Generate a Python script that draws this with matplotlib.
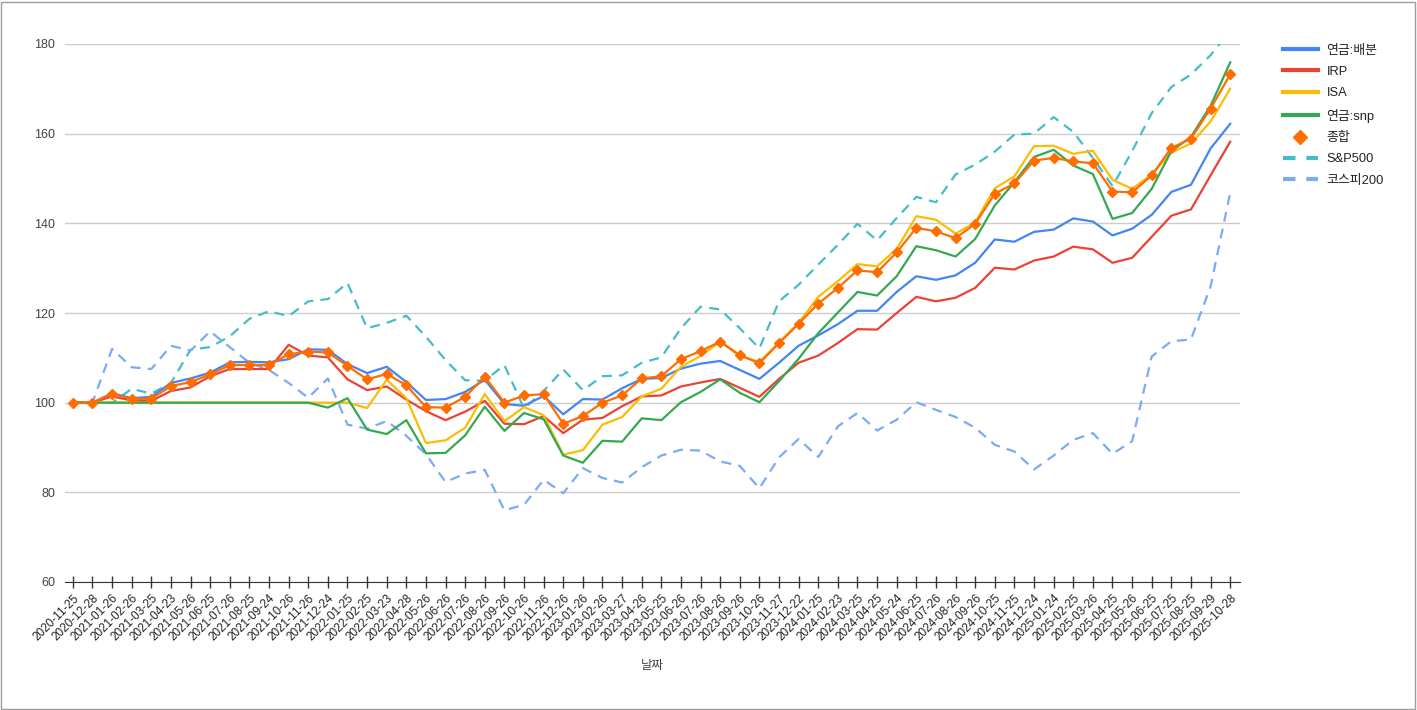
import matplotlib
matplotlib.use("Agg")
import matplotlib.pyplot as plt
from matplotlib.lines import Line2D
from matplotlib.patches import Rectangle

plt.rcParams['font.family'] = ['Liberation Sans', 'Noto Sans CJK KR', 'DejaVu Sans']

dates = ["2020-11-25", "2020-12-28", "2021-01-26", "2021-02-26", "2021-03-25", "2021-04-23",
         "2021-05-26", "2021-06-25", "2021-07-26", "2021-08-25", "2021-09-24", "2021-10-26",
         "2021-11-26", "2021-12-24", "2022-01-25", "2022-02-25", "2022-03-23", "2022-04-28",
         "2022-05-26", "2022-06-26", "2022-07-26", "2022-08-26", "2022-09-26", "2022-10-26",
         "2022-11-26", "2022-12-26", "2023-01-26", "2023-02-26", "2023-03-27", "2023-04-26",
         "2023-05-25", "2023-06-26", "2023-07-26", "2023-08-26", "2023-09-26", "2023-10-26",
         "2023-11-27", "2023-12-22", "2024-01-25", "2024-02-23", "2024-03-25", "2024-04-25",
         "2024-05-24", "2024-06-25", "2024-07-26", "2024-08-26", "2024-09-26", "2024-10-25",
         "2024-11-25", "2024-12-24", "2025-01-24", "2025-02-25", "2025-03-26", "2025-04-25",
         "2025-05-26", "2025-06-25", "2025-07-25", "2025-08-25", "2025-09-29", "2025-10-28"]

pension_alloc = [100, 100, 102.1, 101.0, 101.3, 104.4, 105.4, 106.7, 109.0, 109.1, 109.0, 109.7,
                 111.9, 111.8, 108.6, 106.6, 108.0, 104.6, 100.6, 100.8, 102.4, 105.1, 99.7, 99.3,
                 101.5, 97.4, 100.8, 100.7, 103.2, 105.3, 105.5, 107.6, 108.7, 109.3, 107.3, 105.3,
                 108.9, 112.7, 115.0, 117.5, 120.5, 120.5, 124.7, 128.2, 127.4, 128.4, 131.2, 136.4,
                 135.9, 138.1, 138.6, 141.1, 140.4, 137.3, 138.8, 141.9, 147.0, 148.6, 156.7, 162.2]

irp = [100, 100, 101.4, 100.5, 100.4, 102.6, 103.4, 105.9, 107.5, 107.5, 107.5, 112.9,
       110.5, 110.1, 105.2, 102.8, 103.6, 100.7, 98.1, 96.1, 98.0, 100.4, 95.3, 95.2,
       97.0, 93.2, 96.2, 96.6, 99.2, 101.4, 101.6, 103.6, 104.5, 105.3, 103.3, 101.3,
       105.3, 108.9, 110.5, 113.3, 116.4, 116.3, 120.0, 123.6, 122.6, 123.4, 125.6, 130.1,
       129.7, 131.7, 132.6, 134.8, 134.2, 131.2, 132.3, 137.0, 141.7, 143.1, 150.7, 158.2]

isa = [100, 100, 100, 100, 100, 100, 100, 100, 100, 100, 100, 100,
       100, 100, 100, 98.8, 105.1, 101.0, 91.0, 91.6, 94.4, 101.9, 95.9, 99.0,
       97.2, 88.4, 89.4, 95.1, 96.8, 101.4, 103.1, 108.0, 110.4, 113.6, 110.4, 109.1,
       113.4, 117.8, 123.6, 127.1, 130.9, 130.4, 134.3, 141.6, 140.8, 137.7, 140.2, 147.8,
       150.5, 157.2, 157.3, 155.5, 156.2, 149.7, 147.7, 150.9, 155.8, 157.8, 162.7, 170.0]

pension_snp = [100, 100, 100, 100, 100, 100, 100, 100, 100, 100, 100, 100,
               100, 98.9, 101.0, 94.0, 93.0, 96.1, 88.7, 88.8, 92.7, 99.1, 93.7, 97.7,
               96.3, 88.2, 86.6, 91.5, 91.3, 96.5, 96.1, 100.1, 102.4, 105.2, 102.2, 100.1,
               104.8, 109.8, 115.5, 120.1, 124.7, 123.9, 128.2, 134.9, 134.0, 132.6, 136.5, 144.0,
               149.2, 154.8, 156.4, 152.9, 151.0, 141.0, 142.3, 147.7, 156.1, 159.3, 166.2, 175.9]

total = [100, 100, 102.0, 100.8, 100.9, 103.7, 104.6, 106.3, 108.4, 108.4, 108.4, 110.8,
         111.4, 111.2, 108.2, 105.2, 106.4, 103.9, 99.0, 98.9, 101.3, 105.8, 100.0, 101.6,
         101.9, 95.3, 97.0, 100.0, 101.6, 105.4, 105.9, 109.7, 111.5, 113.6, 110.6, 108.8,
         113.3, 117.6, 122.1, 125.6, 129.5, 129.1, 133.5, 139.0, 138.2, 136.7, 139.9, 146.6,
         148.9, 154.0, 154.6, 153.8, 153.4, 147.1, 146.9, 150.7, 156.8, 158.9, 165.6, 173.2]

sp500 = [100, 100, 100, 103.1, 102.0, 104.4, 111.8, 112.4, 114.8, 118.7, 120.4, 119.3,
         122.6, 123.1, 126.7, 116.6, 117.8, 119.4, 114.7, 109.5, 105.0, 104.9, 108.4, 98.7,
         102.6, 107.4, 102.8, 105.9, 106.1, 108.9, 110.1, 116.6, 121.4, 120.8, 116.6, 112.1,
         122.6, 126.3, 130.8, 135.2, 139.9, 136.2, 141.2, 145.9, 144.7, 150.9, 153.1, 156.0,
         159.8, 160.0, 163.7, 160.4, 154.6, 148.3, 156.1, 164.6, 170.4, 173.2, 177.5, 183.0]

kospi200 = [100, 100, 112.0, 107.9, 107.5, 112.7, 111.6, 115.9, 112.4, 108.9, 107.3, 104.4,
            101.1, 105.4, 95.1, 94.2, 95.9, 92.6, 88.5, 82.3, 84.2, 85.0, 76.0, 77.2,
            82.8, 79.8, 85.4, 83.2, 82.2, 85.6, 88.2, 89.5, 89.3, 86.9, 85.9, 80.9,
            87.8, 91.9, 87.9, 94.7, 97.7, 93.8, 96.2, 100.1, 98.4, 96.8, 94.4, 90.6,
            89.1, 85.1, 88.2, 91.7, 93.2, 88.6, 91.4, 110.3, 113.7, 114.1, 125.9, 146.8]

labels = ["연금:배분", "IRP", "ISA", "연금:snp", "종합", "S&P500", "코스피200"]
colors = ["#4285F4", "#EA4335", "#FBBC04", "#34A853", "#FF6D01", "#46BDC6", "#7BAAF7"]
y_ticks = [60, 80, 100, 120, 140, 160, 180]

W, H = 1417, 710
fig = plt.figure(figsize=(W / 100, H / 100), dpi=100)
ax = fig.add_axes([65 / W, 1 - 582 / H, (1240 - 65) / W, (582 - 44) / H])

x = list(range(len(dates)))
lw = 1.6
series = [pension_alloc, irp, isa, pension_snp]
for s, lab, c in zip(series, labels[:4], colors[:4]):
    ax.plot(x, s, color=c, lw=lw, label=lab, zorder=3)
ax.plot(x, total, color=colors[4], lw=lw, marker='D', markersize=5.5, zorder=4)
ax.plot(x, sp500, color=colors[5], lw=lw, dashes=(4.5, 3.2), zorder=2)
ax.plot(x, kospi200, color=colors[6], lw=lw, dashes=(4.5, 3.2), zorder=2)

ax.set_ylim(60, 180)
ax.set_xlim(-0.4, len(dates) - 1 + 0.5)
ax.set_yticks(y_ticks)
ax.set_yticklabels([str(v) for v in y_ticks])
ax.set_xticks(x)
ax.set_xticklabels(dates, rotation=45, ha='right', rotation_mode='anchor', fontsize=8.5, color='#222222')
ax.tick_params(axis='y', length=0, pad=7, labelsize=9, labelcolor='#444444')
ax.tick_params(axis='x', direction='inout', length=9, width=1, color='#333333', pad=3)
ax.grid(axis='y', color='#cccccc', lw=1)
ax.set_axisbelow(True)
for sp in ['top', 'right', 'left']:
    ax.spines[sp].set_visible(False)
ax.spines['bottom'].set_color('#333333')
ax.spines['bottom'].set_zorder(5)
ax.set_xlabel("날짜", fontsize=9, color='#444444', labelpad=12)

handles = [Line2D([], [], color=colors[i], lw=3) for i in range(4)]
handles.append(Line2D([], [], color=colors[4], lw=0, marker='D', markersize=7))
handles.append(Line2D([], [], color=colors[5], lw=3, dashes=(3, 2.6)))
handles.append(Line2D([], [], color=colors[6], lw=3, dashes=(3, 2.6)))
fig.legend(handles, labels, loc='upper left', bbox_to_anchor=(1271 / W, 1 - 33 / H),
           frameon=False, fontsize=9.3, handlelength=2.7, handletextpad=0.7,
           labelspacing=0.72, labelcolor='#222222')

fig.patches.append(Rectangle((1 / W, 1 / H), 1 - 3 / W, 1 - 3 / H, transform=fig.transFigure,
                             fill=False, edgecolor='#9e9e9e', lw=1))

fig.savefig("out.png", dpi=100, facecolor='white')
